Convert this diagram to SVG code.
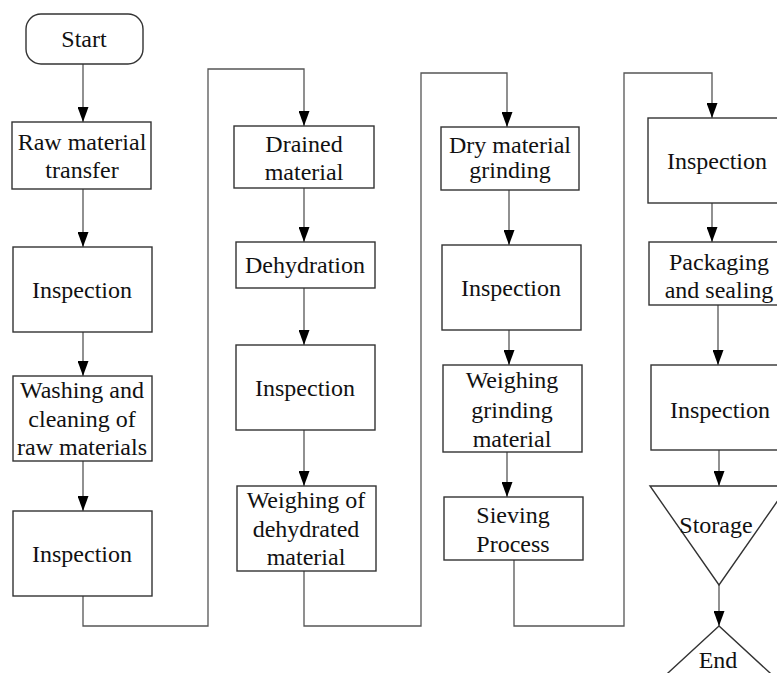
<svg xmlns="http://www.w3.org/2000/svg" width="777" height="673" viewBox="0 0 777 673">
<defs>
<marker id="arr" viewBox="0 0 15 11" markerWidth="15" markerHeight="11" refX="15" refY="5.5" markerUnits="userSpaceOnUse" orient="auto">
<path d="M0,0 L15,5.5 L0,11 z" fill="#000"/>
</marker>
</defs>
<rect width="777" height="673" fill="#fff"/>
<g id="connectors" fill="none" stroke="#555" stroke-width="1.3" marker-end="url(#arr)">
<line x1="83" y1="64" x2="83" y2="122"/>
<line x1="83" y1="189" x2="83" y2="247"/>
<line x1="83" y1="332" x2="83" y2="376"/>
<line x1="83" y1="461" x2="83" y2="511"/>
<polyline points="83,596 83,626 208,626 208,69 304,69 304,126"/>
<line x1="304" y1="188" x2="304" y2="242"/>
<line x1="304" y1="288" x2="304" y2="345"/>
<line x1="304" y1="430" x2="304" y2="486"/>
<polyline points="304,571 304,626 421,626 421,73 507,73 507,127"/>
<line x1="509" y1="190" x2="509" y2="245"/>
<line x1="509" y1="330" x2="509" y2="365"/>
<line x1="507" y1="452" x2="507" y2="497"/>
<polyline points="514,560 514,626 624,626 624,73 712,73 712,118"/>
<line x1="712" y1="203" x2="712" y2="242"/>
<line x1="718" y1="305" x2="718" y2="365"/>
<line x1="719" y1="450" x2="719" y2="486"/>
<line x1="719" y1="585" x2="719" y2="626"/>
</g>
<g id="nodes" fill="#fff" stroke="#333" stroke-width="1.4" font-family="Liberation Serif" font-size="24" text-anchor="middle">
<g id="start"><rect x="26" y="14" width="117" height="50" rx="15"/><text x="84" y="47" fill="#111" stroke="none">Start</text></g>
<g id="raw"><rect x="12" y="122" width="139" height="67"/><text x="82" y="150" fill="#111" stroke="none">Raw material</text><text x="82" y="178" fill="#111" stroke="none">transfer</text></g>
<g id="insp1"><rect x="13" y="247" width="139" height="85"/><text x="82" y="298" fill="#111" stroke="none">Inspection</text></g>
<g id="wash"><rect x="13" y="376" width="139" height="85"/><text x="82" y="398" fill="#111" stroke="none">Washing and</text><text x="82" y="427" fill="#111" stroke="none">cleaning of</text><text x="82" y="455" fill="#111" stroke="none">raw materials</text></g>
<g id="insp2"><rect x="13" y="511" width="139" height="85"/><text x="82" y="562" fill="#111" stroke="none">Inspection</text></g>
<g id="drained"><rect x="234" y="126" width="140" height="62"/><text x="304" y="152" fill="#111" stroke="none">Drained</text><text x="304" y="180" fill="#111" stroke="none">material</text></g>
<g id="dehyd"><rect x="236" y="242" width="139" height="46"/><text x="305" y="273" fill="#111" stroke="none">Dehydration</text></g>
<g id="insp3"><rect x="236" y="345" width="139" height="85"/><text x="305" y="396" fill="#111" stroke="none">Inspection</text></g>
<g id="weighdehyd"><rect x="237" y="486" width="139" height="85"/><text x="306" y="508" fill="#111" stroke="none">Weighing of</text><text x="306" y="537" fill="#111" stroke="none">dehydrated</text><text x="306" y="565" fill="#111" stroke="none">material</text></g>
<g id="drygrind"><rect x="441" y="127" width="138" height="63"/><text x="510" y="153" fill="#111" stroke="none">Dry material</text><text x="510" y="178" fill="#111" stroke="none">grinding</text></g>
<g id="insp4"><rect x="442" y="245" width="139" height="85"/><text x="511" y="296" fill="#111" stroke="none">Inspection</text></g>
<g id="weighgrind"><rect x="443" y="365" width="139" height="87"/><text x="512" y="388" fill="#111" stroke="none">Weighing</text><text x="512" y="418" fill="#111" stroke="none">grinding</text><text x="512" y="447" fill="#111" stroke="none">material</text></g>
<g id="sieving"><rect x="444" y="497" width="139" height="63"/><text x="513" y="523" fill="#111" stroke="none">Sieving</text><text x="513" y="552" fill="#111" stroke="none">Process</text></g>
<g id="insp5"><rect x="648" y="118" width="140" height="85"/><text x="717" y="169" fill="#111" stroke="none">Inspection</text></g>
<g id="packaging"><rect x="649" y="242" width="140" height="63"/><text x="719" y="270" fill="#111" stroke="none">Packaging</text><text x="719" y="298" fill="#111" stroke="none">and sealing</text></g>
<g id="insp6"><rect x="651" y="365" width="140" height="85"/><text x="720" y="418" fill="#111" stroke="none">Inspection</text></g>
<g id="storage"><polygon points="650,486 788,486 719,585"/><text x="716" y="533" fill="#111" stroke="none">Storage</text></g>
<g id="end"><polygon points="719,626 656,684 782,684"/><text x="718" y="668" fill="#111" stroke="none">End</text></g>
</g>
</svg>
